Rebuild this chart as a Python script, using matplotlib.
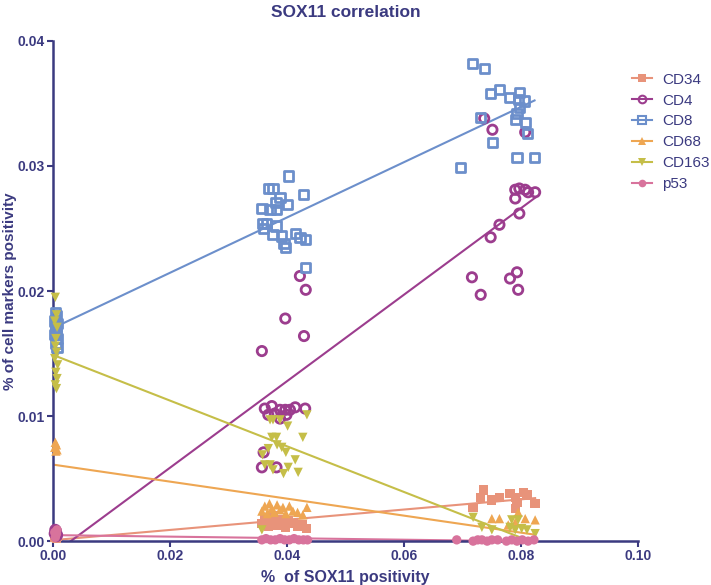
import numpy as np
import matplotlib
matplotlib.use("Agg")
import matplotlib.pyplot as plt

plt.rcParams['font.family'] = ['Liberation Sans', 'DejaVu Sans']

navy = '#3b3a80'

# SOX11 positivity (x) and marker positivity (y)
cd34_x = [0.0003, 0.0005, 0.0007, 0.0004, 0.0006,
          0.0357, 0.0362, 0.0368, 0.0372, 0.0376, 0.0381, 0.0386, 0.0391, 0.0397, 0.0402, 0.0410, 0.0418, 0.0427, 0.0433,
          0.0718, 0.0731, 0.0736, 0.0750, 0.0763, 0.0781, 0.0790, 0.0790, 0.0793, 0.0804, 0.0810, 0.0824]
cd34_y = [0.0003, 0.0005, 0.0004, 0.0006, 0.0002,
          0.0014, 0.0018, 0.0012, 0.0016, 0.0020, 0.0013, 0.0017, 0.0015, 0.0011, 0.0016, 0.0014, 0.0012, 0.0013, 0.0010,
          0.0027, 0.0035, 0.0041, 0.0033, 0.0035, 0.0038, 0.0035, 0.0026, 0.0031, 0.0039, 0.0037, 0.0030]

cd4_x = [0.0003, 0.0005, 0.0007, 0.0004, 0.0006,
         0.0422, 0.0432, 0.0397, 0.0429, 0.0357, 0.0362, 0.0374, 0.0388, 0.0397, 0.0405, 0.0414, 0.0431,
         0.0368, 0.0379, 0.0388, 0.0399, 0.0360, 0.0357, 0.0382,
         0.0737, 0.0751, 0.0807, 0.0790, 0.0797, 0.0807, 0.0812, 0.0824, 0.0790, 0.0797, 0.0763, 0.0748,
         0.0716, 0.0781, 0.0793, 0.0795, 0.0731]
cd4_y = [0.0006, 0.0008, 0.0005, 0.0009, 0.0004,
         0.0212, 0.0201, 0.0178, 0.0164, 0.0152, 0.0106, 0.0108, 0.0105, 0.0105, 0.0105, 0.0107, 0.0106,
         0.0101, 0.0102, 0.0098, 0.0101, 0.0071, 0.0059, 0.0059,
         0.0338, 0.0329, 0.0327, 0.0281, 0.0282, 0.0281, 0.0279, 0.0279, 0.0274, 0.0262, 0.0253, 0.0243,
         0.0211, 0.0210, 0.0215, 0.0201, 0.0197]

cd8_x = [0.0004, 0.0006, 0.0003, 0.0007, 0.0005, 0.0004, 0.0006, 0.0003, 0.0008, 0.0005, 0.0007,
         0.0402, 0.0368, 0.0376, 0.0388, 0.0428, 0.0381, 0.0401, 0.0357, 0.0371, 0.0382, 0.0358,
         0.0365, 0.0360, 0.0381, 0.0376, 0.0391, 0.0414, 0.0422, 0.0431, 0.0395, 0.0397, 0.0432,
         0.0717, 0.0737, 0.0748, 0.0763, 0.0780, 0.0797, 0.0795, 0.0806, 0.0797, 0.0793, 0.0791,
         0.0807, 0.0811, 0.0731, 0.0751, 0.0793, 0.0823, 0.0696]
cd8_y = [0.0183, 0.0180, 0.0176, 0.0174, 0.0171, 0.0169, 0.0167, 0.0165, 0.0162, 0.0158, 0.0155,
         0.0292, 0.0282, 0.0282, 0.0275, 0.0277, 0.0271, 0.0269, 0.0266, 0.0265, 0.0265, 0.0254,
         0.0254, 0.0250, 0.0252, 0.0245, 0.0244, 0.0246, 0.0243, 0.0241, 0.0238, 0.0235, 0.0219,
         0.0382, 0.0378, 0.0358, 0.0361, 0.0355, 0.0359, 0.0353, 0.0352, 0.0347, 0.0342, 0.0337,
         0.0335, 0.0326, 0.0339, 0.0319, 0.0307, 0.0307, 0.0299]

cd68_x = [0.0004, 0.0006, 0.0003, 0.0007, 0.0005,
          0.0357, 0.0362, 0.0366, 0.0370, 0.0374, 0.0378, 0.0383, 0.0388, 0.0393, 0.0398, 0.0404, 0.0410, 0.0418, 0.0427, 0.0434,
          0.0750, 0.0763, 0.0795, 0.0807, 0.0824, 0.0790, 0.0778]
cd68_y = [0.0079, 0.0077, 0.0075, 0.0073, 0.0072,
          0.0024, 0.0028, 0.0022, 0.0030, 0.0026, 0.0023, 0.0029, 0.0025, 0.0027, 0.0022, 0.0028, 0.0024, 0.0023, 0.0021, 0.0027,
          0.0018, 0.0018, 0.0023, 0.0018, 0.0017, 0.0015, 0.0013]

cd163_x = [0.0004, 0.0006, 0.0003, 0.0007, 0.0005, 0.0004, 0.0006, 0.0003, 0.0008, 0.0005, 0.0007, 0.0004, 0.0006,
           0.0434, 0.0371, 0.0376, 0.0388, 0.0401, 0.0374, 0.0382, 0.0427, 0.0368, 0.0383, 0.0391, 0.0398,
           0.0358, 0.0414, 0.0362, 0.0371, 0.0376, 0.0394, 0.0402, 0.0419, 0.0357,
           0.0718, 0.0733, 0.0750, 0.0781, 0.0790, 0.0801, 0.0810, 0.0824, 0.0795, 0.0784]
cd163_y = [0.0195, 0.0181, 0.0176, 0.0171, 0.0162, 0.0156, 0.0151, 0.0146, 0.0141, 0.0135, 0.0130, 0.0125, 0.0122,
           0.0101, 0.0097, 0.0097, 0.0097, 0.0092, 0.0083, 0.0083, 0.0083, 0.0074, 0.0077, 0.0075, 0.0071,
           0.0069, 0.0065, 0.0061, 0.0061, 0.0057, 0.0054, 0.0059, 0.0055, 0.0009,
           0.0019, 0.0011, 0.0009, 0.0011, 0.0009, 0.0010, 0.0009, 0.0006, 0.0017, 0.0017]

p53_x = [0.0003, 0.0005, 0.0007, 0.0004, 0.0006,
         0.0357, 0.0364, 0.0372, 0.0380, 0.0388, 0.0396, 0.0404, 0.0412, 0.0420, 0.0428, 0.0435,
         0.0690, 0.0718, 0.0726, 0.0733, 0.0742, 0.0750, 0.0760, 0.0775, 0.0784, 0.0793, 0.0802, 0.0812, 0.0822]
p53_y = [0.0007, 0.0005, 0.0009, 0.0003, 0.0006,
         0.0001, 0.0002, 0.0001, 0.0001, 0.0002, 0.0001, 0.0001, 0.0002, 0.0001, 0.0001, 0.0001,
         0.0001, 0.0000, 0.0001, 0.0001, 0.0000, 0.0001, 0.0001, 0.0000, 0.0001, 0.0000, 0.0001, 0.0000, 0.0001]

series = [
    ('CD34', cd34_x, cd34_y, '#e8937a', 's', True),
    ('CD4', cd4_x, cd4_y, '#9c3d8e', 'o', False),
    ('CD8', cd8_x, cd8_y, '#6c8fcb', 's', False),
    ('CD68', cd68_x, cd68_y, '#eea652', '^', True),
    ('CD163', cd163_x, cd163_y, '#c5be48', 'v', True),
    ('p53', p53_x, p53_y, '#d8739c', 'o', True),
]

fig = plt.figure(figsize=(7.11, 5.85), dpi=100)
ax = fig.add_axes([0.0745, 0.075, 0.823, 0.855])

handles = []
for name, xs, ys, col, mk, filled in series:
    xs = np.array(xs)
    ys = np.array(ys)
    if filled:
        ax.scatter(xs, ys, marker=mk, s=45, color=col, edgecolors='none', clip_on=False, zorder=3)
    else:
        ax.scatter(xs, ys, marker=mk, s=45, facecolors='none', edgecolors=col, linewidths=2, clip_on=False, zorder=3)
    # linear regression line
    k, b = np.polyfit(xs, ys, 1)
    xx = np.array([0, xs.max()])
    ax.plot(xx, k * xx + b, color=col, lw=1.5, zorder=2)
    h, = ax.plot([], [], color=col, lw=1.5, marker=mk, markersize=5.5,
                 markerfacecolor=(col if filled else 'none'), markeredgecolor=col,
                 markeredgewidth=(0 if filled else 1.5))
    handles.append((h, name))

ax.set_xlim(0, 0.10)
ax.set_ylim(0, 0.04)
ax.set_xticks([0, 0.02, 0.04, 0.06, 0.08, 0.10])
ax.set_yticks([0, 0.01, 0.02, 0.03, 0.04])
ax.set_xticklabels(['0.00', '0.02', '0.04', '0.06', '0.08', '0.10'])
ax.set_yticklabels(['0.00', '0.01', '0.02', '0.03', '0.04'])

for s in ['top', 'right']:
    ax.spines[s].set_visible(False)
for s in ['left', 'bottom']:
    ax.spines[s].set_color(navy)
    ax.spines[s].set_linewidth(1.8)
ax.tick_params(colors=navy, width=1.5, length=4, labelsize=10, pad=2)
for lab in ax.get_xticklabels() + ax.get_yticklabels():
    lab.set_fontweight('bold')

ax.set_title('SOX11 correlation', color=navy, fontsize=12.5, fontweight='bold', pad=17)
ax.set_xlabel('%  of SOX11 positivity', color=navy, fontsize=11.5, fontweight='bold', labelpad=5)
ax.set_ylabel('% of cell markers positivity', color=navy, fontsize=11, fontweight='bold', labelpad=0)

leg = ax.legend([h for h, n in handles], [n for h, n in handles], loc='upper left',
                bbox_to_anchor=(0.966, 0.964), frameon=False, fontsize=11,
                labelcolor=navy, handlelength=1.3, handletextpad=0.7, labelspacing=0.45)

fig.savefig('out.png', dpi=100)
